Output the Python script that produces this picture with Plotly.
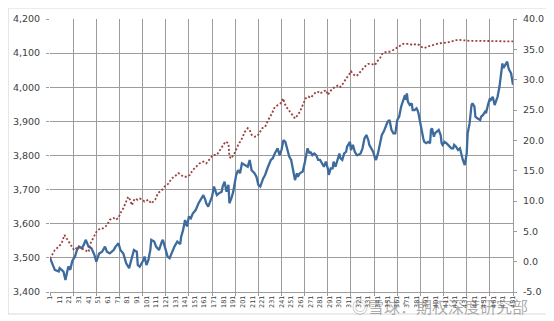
import plotly.graph_objects as go

# ---- data ----
blue_x = [1, 6, 10, 11, 15, 17, 20, 22, 24, 27, 29, 31, 34, 36, 38, 41, 44, 47, 49, 52,
          55, 58, 60, 63, 67, 69, 72, 74, 77, 80, 83, 86, 88, 91, 92, 94, 98, 99, 101, 103,
          105, 106, 109, 111, 114, 117, 118, 120, 123, 125, 127, 130, 133, 136, 137, 139, 141, 143, 145, 147,
          149, 152, 155, 157, 160, 162, 163, 165, 167, 169, 171, 174, 176, 179, 180, 182, 184, 186, 187, 189,
          191, 193, 194, 196, 198, 200, 203, 206, 208, 210, 213, 215, 217, 219, 222, 224, 227, 230, 232, 234,
          237, 239, 241, 243, 245, 247, 249, 251, 253, 255, 257, 258, 260, 263, 265, 268, 270, 271, 273, 275,
          277, 279, 281, 283, 285, 287, 289, 290, 292, 294, 295, 297, 299, 301, 302, 304, 306, 308, 309, 312,
          313, 315, 317, 319, 320, 323, 325, 327, 329, 331, 332, 334, 336, 338, 339, 341, 343, 345, 347, 349,
          351, 353, 355, 357, 359, 361, 363, 365, 367, 369, 370, 371, 372, 374, 376, 377, 379, 381, 382, 383,
          385, 386, 388, 389, 391, 393, 395, 396, 397, 399, 400, 402, 404, 406, 407, 408, 410, 412, 414, 415,
          417, 419, 420, 422, 424, 426, 427, 429, 431, 433, 434, 436, 438, 439, 441, 442, 444, 446, 447, 448,
          450, 452, 453, 455, 457, 458, 460, 462, 464, 465, 467, 468, 469, 470, 471, 473, 475, 476, 477, 479,
          480, 481]
blue_y = [3500, 3465, 3460, 3470, 3460, 3435, 3475, 3465, 3490, 3505, 3523, 3533, 3528, 3538, 3553, 3533, 3528, 3509, 3489, 3513,
          3518, 3533, 3518, 3513, 3523, 3533, 3543, 3523, 3513, 3484, 3470, 3499, 3523, 3518, 3479, 3474, 3494, 3504, 3479, 3494,
          3523, 3553, 3548, 3533, 3523, 3548, 3553, 3533, 3503, 3499, 3513, 3533, 3548, 3540, 3562, 3582, 3611, 3592, 3621, 3616,
          3630, 3640, 3660, 3670, 3684, 3670, 3660, 3650, 3665, 3679, 3709, 3684, 3689, 3694, 3709, 3723, 3694, 3714, 3660, 3674,
          3694, 3738, 3743, 3757, 3748, 3777, 3772, 3767, 3787, 3757, 3748, 3738, 3714, 3709, 3733, 3743, 3767, 3787, 3792, 3806,
          3821, 3801, 3816, 3845, 3840, 3816, 3797, 3787, 3757, 3728, 3748, 3738, 3748, 3753, 3777, 3821, 3806, 3811, 3801, 3806,
          3801, 3787, 3787, 3777, 3767, 3782, 3762, 3743, 3762, 3762, 3782, 3767, 3787, 3806, 3792, 3787, 3806, 3811, 3826, 3840,
          3816, 3831, 3811, 3801, 3801, 3806, 3821, 3850, 3860, 3845, 3831, 3821, 3811, 3792, 3787, 3806, 3836, 3860, 3870, 3884,
          3899, 3904, 3875, 3865, 3865, 3904, 3914, 3943, 3958, 3977, 3963, 3982, 3958, 3948, 3953, 3933, 3933, 3938, 3933, 3924,
          3894, 3875, 3850, 3840, 3836, 3840, 3836, 3875, 3880, 3855, 3865, 3870, 3875, 3860, 3836, 3831, 3840, 3836, 3831, 3826,
          3821, 3821, 3831, 3826, 3816, 3821, 3806, 3787, 3772, 3806, 3865, 3894, 3948, 3953, 3943, 3914, 3909, 3904, 3904, 3914,
          3919, 3928, 3924, 3948, 3967, 3963, 3972, 3948, 3963, 3972, 4002, 4026, 4056, 4070, 4056, 4065, 4075, 4060, 4051, 4041,
          4026, 4007]

red_x = [1, 6, 10, 13, 16, 18, 21, 23, 26, 30, 34, 37, 41, 43, 46, 49, 53, 56, 60, 63,
         67, 69, 72, 74, 77, 79, 82, 84, 86, 87, 89, 92, 94, 97, 99, 103, 106, 110, 113, 117,
         120, 124, 127, 130, 134, 137, 139, 143, 146, 149, 153, 156, 160, 163, 167, 170, 174, 177, 180, 183,
         186, 187, 189, 193, 196, 200, 203, 206, 208, 210, 213, 216, 218, 221, 224, 227, 231, 234, 237, 240,
         243, 244, 247, 250, 252, 255, 257, 260, 263, 266, 269, 271, 274, 277, 279, 281, 284, 287, 289, 292,
         294, 297, 300, 302, 305, 308, 311, 313, 316, 319, 321, 324, 327, 331, 334, 338, 340, 343, 346, 350,
         353, 357, 360, 363, 367, 374, 377, 381, 384, 386, 389, 393, 398, 405, 412, 419, 424, 429, 436, 446,
         457, 467, 481]
red_y = [0.5, 1.9, 2.5, 3.0, 4.4, 3.9, 3.0, 2.5, 1.9, 2.5, 2.2, 1.9, 1.6, 3.0, 3.9, 4.9, 5.5, 5.5, 6.0, 6.9,
         7.2, 6.9, 7.2, 8.0, 8.8, 9.6, 10.7, 10.2, 9.3, 9.8, 10.4, 10.2, 10.4, 10.2, 9.9, 10.2, 9.6, 10.2, 11.3, 11.8,
         12.4, 12.9, 13.7, 14.0, 14.6, 14.3, 14.0, 14.0, 14.3, 15.1, 15.7, 16.2, 16.5, 16.2, 17.0, 17.6, 17.6, 18.4, 19.2, 19.8,
         19.5, 17.3, 17.0, 18.1, 19.2, 20.3, 21.4, 22.0, 21.7, 20.9, 20.6, 20.7, 21.2, 22.0, 22.2, 23.3, 24.4, 25.5, 25.8, 26.1,
         26.9, 26.1, 25.3, 24.7, 24.2, 23.6, 24.0, 24.7, 25.8, 26.9, 27.2, 27.0, 27.5, 28.0, 28.0, 27.7, 28.0, 28.3, 27.5, 28.3,
         28.6, 28.8, 29.1, 28.8, 29.4, 30.2, 30.8, 31.4, 30.8, 30.6, 31.0, 31.6, 32.1, 32.6, 32.6, 32.4, 33.0, 33.5, 34.4, 34.6,
         34.6, 34.9, 35.2, 35.5, 35.9, 35.9, 35.7, 35.9, 35.7, 35.4, 35.2, 35.5, 35.7, 36.0, 36.1, 36.4, 36.6, 36.5, 36.4, 36.4,
         36.4, 36.4, 36.3]

x_labels = [str(v) for v in range(1, 482, 10)]
x_label_pos = list(range(1, 482, 10))
left_ticks = [3400, 3500, 3600, 3700, 3800, 3900, 4000, 4100, 4200]
right_ticks = [-5, 0, 5, 10, 15, 20, 25, 30, 35, 40]

GRID = "#9c9c9c"
TXT = "#404040"
FONT = "DejaVu Sans"

fig = go.Figure()
fig.add_trace(go.Scatter(x=red_x, y=red_y, mode="lines", yaxis="y2",
                         line=dict(color="#9b3f3f", width=1.8, dash="2px,2px"),
                         showlegend=False, hoverinfo="skip"))
fig.add_trace(go.Scatter(x=blue_x, y=blue_y, mode="lines", yaxis="y",
                         line=dict(color="#3d6b9e", width=2.3),
                         showlegend=False, hoverinfo="skip"))

# the page body has an 8px default margin, so the figure is sized to the remaining view
fig.update_layout(
    width=546, height=313,
    margin=dict(l=42, r=40.5, t=11, b=29, autoexpand=False),
    paper_bgcolor="white", plot_bgcolor="white",
    font=dict(family=FONT, color=TXT),
    xaxis=dict(range=[1, 481], tickmode="array", tickvals=x_label_pos, ticktext=x_labels,
               tickangle=-90, tickfont=dict(size=6.5, family=FONT, color=TXT),
               showgrid=False, zeroline=False, showline=True, linecolor=GRID, linewidth=1,
               ticks="", automargin=False,
               minor=dict(tickmode="linear", tick0=1, dtick=24, showgrid=True,
                          gridcolor=GRID, gridwidth=1, ticks="outside", ticklen=3,
                          tickcolor=GRID)),
    yaxis=dict(range=[3400, 4200], tickmode="array", tickvals=left_ticks,
               ticktext=[f"{v:,}" for v in left_ticks],
               tickfont=dict(size=9.5, family=FONT, color=TXT),
               showgrid=True, gridcolor=GRID, gridwidth=1, zeroline=False, automargin=False,
               showline=False, ticks="outside", ticklen=3, tickcolor=GRID, ticklabelstandoff=4),
    yaxis2=dict(range=[-5, 40], overlaying="y", side="right", tickmode="array",
                tickvals=right_ticks, ticktext=[f"{v:.1f}" for v in right_ticks],
                tickfont=dict(size=9.5, family=FONT, color=TXT), automargin=False,
                showgrid=False, zeroline=False, showline=True, linecolor=GRID, linewidth=1,
                ticks="outside", ticklen=3, tickcolor=GRID, ticklabelstandoff=4),
)

# outer chart frame
fig.add_shape(type="rect", xref="paper", yref="paper",
              x0=-0.0906, x1=1.0744, y0=-0.0806, y1=1.0403,
              line=dict(color="#d9d9d9", width=1.2), fillcolor="rgba(0,0,0,0)", layer="below")

# watermark
fig.add_annotation(text="◎雪球：期权深度研究部", xref="paper", yref="paper",
                   x=1.036, y=-0.052, xanchor="right", yanchor="middle", showarrow=False,
                   font=dict(size=16, family="Noto Sans CJK SC", color="rgba(100,100,100,0.55)"))

fig.write_html("out.html")
